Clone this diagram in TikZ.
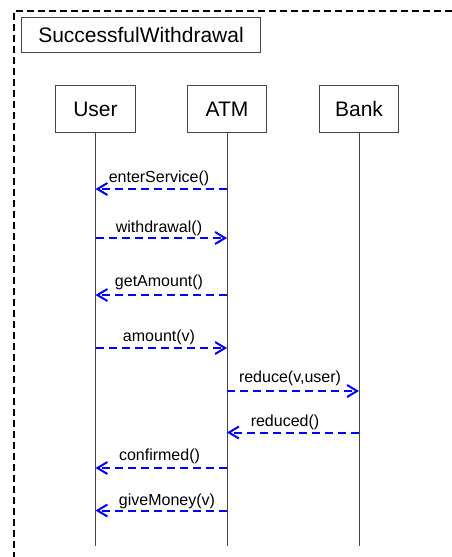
\documentclass[tikz,border=0pt]{standalone}
\usepackage{fontspec}
\setmainfont{Liberation Sans}
\usetikzlibrary{arrows.meta}
\definecolor{msgblue}{RGB}{0,0,255}
\definecolor{linegray}{RGB}{70,70,70}
\tikzset{
  objbox/.style={draw=linegray, line width=1pt, minimum width=79.5pt, minimum height=46.5pt, inner sep=0pt, font=\fontsize{21}{25}\selectfont},
  titlebox/.style={draw=linegray, line width=1pt, minimum width=239.5pt, minimum height=35.5pt, inner sep=0pt, font=\fontsize{21}{25}\selectfont},
  life/.style={draw=linegray, line width=1pt},
  msg/.style={draw=msgblue, line width=2pt, dash pattern=on 8pt off 5pt, -{Straight Barb[length=10pt,width=12pt,line width=2pt]}},
  lbl/.style={font=\fontsize{16}{19}\selectfont, anchor=base, inner sep=0pt},
  frame/.style={draw=black, line width=1.5pt, dash pattern=on 7pt off 4pt}
}
\begin{document}
\begin{tikzpicture}[x=1pt,y=-1pt]
\useasboundingbox (0,0) rectangle (451,557);
\fill[white] (0,0) rectangle (451,557);
% frame
\coordinate (fbl) at (14,570);
\coordinate (ftl) at (14,11);
\coordinate (ftr) at (470,11);
\draw[frame] (fbl) -- (ftl) -- (ftr);
\node[titlebox] (title) at (141,35) {SuccessfulWithdrawal};
% objects
\node[objbox] (user) at (95.5,109) {User};
\node[objbox] (atm) at (227,109) {ATM};
\node[objbox] (bank) at (359,109) {Bank};
\coordinate (userend) at (95.5,546);
\coordinate (atmend) at (227,546);
\coordinate (bankend) at (359,546);
\draw[life] (user.south) -- (userend);
\draw[life] (atm.south) -- (atmend);
\draw[life] (bank.south) -- (bankend);
% messages
\draw[msg] (atm |- 0,189) -- (user |- 0,189);
\node[lbl] (m1) at (159,182.5) {enterService()};
\draw[msg] (user |- 0,238) -- (atm |- 0,238);
\node[lbl] (m2) at (159,232.5) {withdrawal()};
\draw[msg] (atm |- 0,295) -- (user |- 0,295);
\node[lbl] (m3) at (159,286.5) {getAmount()};
\draw[msg] (user |- 0,348) -- (atm |- 0,348);
\node[lbl] (m4) at (159,341.5) {amount(v)};
\draw[msg] (atm |- 0,391) -- (bank |- 0,391);
\node[lbl] (m5) at (290,382.5) {reduce(v,user)};
\draw[msg] (bank |- 0,432.5) -- (atm |- 0,432.5);
\node[lbl] (m6) at (285,426) {reduced()};
\draw[msg] (atm |- 0,468) -- (user |- 0,468);
\node[lbl] (m7) at (159.5,460) {confirmed()};
\draw[msg] (atm |- 0,510.5) -- (user |- 0,510.5);
\node[lbl] (m8) at (167,505) {giveMoney(v)};
\end{tikzpicture}
\end{document}
